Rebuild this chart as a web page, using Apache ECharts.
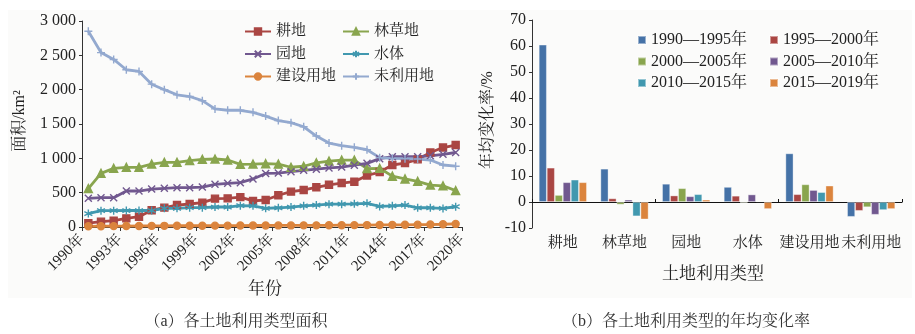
<!DOCTYPE html>
<html>
<head>
<meta charset="utf-8">
<script src="https://cdn.jsdelivr.net/npm/echarts@6/dist/echarts.min.js"></script>
<style>
html,body{margin:0;padding:0;background:#fff;}
#c{width:915px;height:334px;}
</style>
</head>
<body>
<div id="c"></div>
<script>
// ---------- data: panel (a) ----------
const years = [1990,1991,1992,1993,1994,1995,1996,1997,1998,1999,2000,2001,2002,2003,2004,2005,2006,2007,2008,2009,2010,2011,2012,2013,2014,2015,2016,2017,2018,2019];
const gengdi   = [55,78,92,126,150,245,282,320,335,355,413,417,435,380,393,462,515,539,578,615,640,660,750,800,903,930,985,1085,1157,1194];
const lincaodi = [560,781,854,869,869,917,942,942,966,985,990,976,913,917,922,915,870,885,935,960,975,975,850,855,740,700,665,610,600,530];
const yuandi   = [417,427,427,524,524,553,563,573,573,582,621,636,645,700,780,785,806,825,842,860,873,900,927,995,1024,1024,1024,1036,1058,1085];
const shuiti   = [195,238,238,240,240,240,272,272,282,282,291,291,310,308,272,280,290,308,320,332,332,338,345,300,308,320,280,280,270,295];
const jianshe  = [10,12,13,14,15,16,17,18,18,19,20,20,21,22,22,23,23,24,24,25,26,27,28,30,31,32,34,36,40,45];
const weili    = [2850,2540,2440,2290,2265,2080,2000,1925,1900,1840,1720,1700,1700,1670,1615,1550,1520,1460,1325,1222,1185,1160,1125,1010,1000,995,990,975,903,885];
const yTicksA = [0,500,1000,1500,2000,2500,3000];

// ---------- data: panel (b) ----------
const landTypes = ['耕地','林草地','园地','水体','建设用地','未利用地'];
const periods = ['1990—1995年','1995—2000年','2000—2005年','2005—2010年','2010—2015年','2015—2019年'];
const rate1990_1995 = [60.5, 12.8, 7.0, 5.8, 18.7, -5.7];
const rate1995_2000 = [13.2, 1.4, 2.5, 2.4, 3.0, -3.4];
const rate2000_2005 = [2.7, -1.0, 5.3, -0.4, 6.8, -2.0];
const rate2005_2010 = [7.6, 0.9, 2.2, 2.9, 4.6, -4.9];
const rate2010_2015 = [8.6, -5.5, 3.0, 0.3, 3.8, -3.1];
const rate2015_2019 = [7.6, -6.7, 0.9, -2.7, 6.3, -2.7];
const rates = [rate1990_1995, rate1995_2000, rate2000_2005, rate2005_2010, rate2010_2015, rate2015_2019];

const serif = "'Liberation Serif','Times New Roman','Noto Serif CJK SC','Noto Sans CJK SC',serif";
const txt = '#222';
const axisCol = '#333';

const lineDefs = [
  {name:'耕地', data:gengdi, color:'#AA4643', symbol:'rect', size:7},
  {name:'林草地', data:lincaodi, color:'#89A54E', symbol:'triangle', size:8},
  {name:'园地', data:yuandi, color:'#71588F', symbol:'path://M0,0L10,10M10,0L0,10', size:7},
  {name:'水体', data:shuiti, color:'#4198AF', symbol:'path://M5,0L5,10M0.7,2.5L9.3,7.5M9.3,2.5L0.7,7.5', size:8},
  {name:'建设用地', data:jianshe, color:'#DB843D', symbol:'circle', size:7},
  {name:'未利用地', data:weili, color:'#93A9CF', symbol:'path://M5,0L5,10M0,5L10,5', size:8}
];
const barColors = ['#4572A7','#AA4643','#89A54E','#71588F','#4198AF','#DB843D'];

function fmtThousands(v){
  const s = String(v);
  return s.length > 3 ? s.slice(0, s.length-3) + ' ' + s.slice(-3) : s;
}

const series = [];
lineDefs.forEach(d => {
  series.push({
    type:'line', name:d.name, xAxisIndex:0, yAxisIndex:0,
    data: d.data.map((v,i) => [years[i] - years[0] + 0.5, v]),
    symbol:d.symbol, symbolSize:d.size, showSymbol:true,
    lineStyle:{color:d.color, width:2.8},
    itemStyle:{color:d.color, borderColor:d.color, borderWidth:1.4},
    z:3
  });
});
periods.forEach((p,k) => {
  series.push({
    type:'bar', name:p, xAxisIndex:1, yAxisIndex:1,
    data: rates[k], barGap:'0%', barCategoryGap:'22%',
    itemStyle:{color:barColors[k], borderColor:'rgba(255,255,255,0.45)', borderWidth:0.8}
  });
});

const chart = echarts.init(document.getElementById('c'), null, {renderer:'canvas'});
chart.setOption({
  animation:false,
  backgroundColor:'#fff',
  graphic:[
    {type:'rect', shape:{x:8,y:10,width:904,height:288}, style:{fill:'#fbfbfa'}, z:-10, silent:true},
    {type:'text', x:265, y:290, style:{text:'年份', font:"17px "+serif, fill:txt, align:'center', verticalAlign:'middle'}},
    {type:'text', x:20, y:121, rotation:Math.PI/2, style:{text:'面积/km²', font:"16px "+serif, fill:txt, align:'center', verticalAlign:'middle'}},
    {type:'text', x:713, y:275, style:{text:'土地利用类型', font:"17px "+serif, fill:txt, align:'center', verticalAlign:'middle'}},
    {type:'text', x:488, y:120, rotation:Math.PI/2, style:{text:'年均变化率/%', font:"16px "+serif, fill:txt, align:'center', verticalAlign:'middle'}},
    {type:'text', x:236, y:322, style:{text:'（a）各土地利用类型面积', font:"16px "+serif, fill:'#333', align:'center', verticalAlign:'middle'}},
    {type:'text', x:686, y:322, style:{text:'（b）各土地利用类型的年均变化率', font:"16px "+serif, fill:'#333', align:'center', verticalAlign:'middle'}}
  ],
  legend:[
    {data:['耕地','园地','建设用地'], orient:'vertical', left:244, top:24, padding:0, itemWidth:26, itemHeight:8, itemGap:7.5,
     textStyle:{fontSize:15, fontFamily:serif, color:txt}},
    {data:['林草地','水体','未利用地'], orient:'vertical', left:342, top:24, padding:0, itemWidth:26, itemHeight:8, itemGap:7.5,
     textStyle:{fontSize:15, fontFamily:serif, color:txt}},
    {data:[periods[0],periods[2],periods[4]], orient:'vertical', left:637, top:32, padding:0, itemWidth:8, itemHeight:8, itemGap:5.5, icon:'rect',
     textStyle:{fontSize:16, fontFamily:serif, color:txt}},
    {data:[periods[1],periods[3],periods[5]], orient:'vertical', left:769, top:32, padding:0, itemWidth:8, itemHeight:8, itemGap:5.5, icon:'rect',
     textStyle:{fontSize:16, fontFamily:serif, color:txt}}
  ],
  grid:[
    {left:82, top:21, width:380, height:206, containLabel:false},
    {left:532, top:20, width:370, height:208, containLabel:false}
  ],
  xAxis:[
    {type:'value', gridIndex:0, min:0, max:30, interval:3,
     axisLine:{show:true, lineStyle:{color:axisCol}},
     axisTick:{show:true, length:4, lineStyle:{color:axisCol}},
     splitLine:{show:false},
     axisLabel:{rotate:45, fontSize:15, fontFamily:serif, color:txt, margin:10,
       formatter:v => (years[0] + v) + '年'}},
    {type:'category', gridIndex:1, data:landTypes, position:'bottom',
     axisLine:{show:false, onZero:false}, axisTick:{show:false},
     axisLabel:{interval:0, fontSize:15, fontFamily:serif, color:txt, margin:8}},
    {type:'category', gridIndex:1, data:landTypes, position:'bottom',
     axisLine:{show:true, onZero:true, lineStyle:{color:'#111', width:1.2}},
     axisTick:{show:true, inside:true, length:3, lineStyle:{color:'#111'}},
     axisLabel:{show:false}}
  ],
  yAxis:[
    {type:'value', gridIndex:0, min:yTicksA[0], max:yTicksA[yTicksA.length-1], interval:500,
     axisLine:{show:true, lineStyle:{color:axisCol}},
     axisTick:{show:true, length:3, lineStyle:{color:axisCol}},
     splitLine:{show:false},
     axisLabel:{fontSize:16, fontFamily:serif, color:txt, margin:6, formatter:fmtThousands}},
    {type:'value', gridIndex:1, min:-10, max:70, interval:10,
     axisLine:{show:true, lineStyle:{color:axisCol}},
     axisTick:{show:true, length:3, lineStyle:{color:axisCol}},
     splitLine:{show:false},
     axisLabel:{fontSize:16, fontFamily:serif, color:txt, margin:6}}
  ],
  series: series
});
</script>
</body>
</html>
